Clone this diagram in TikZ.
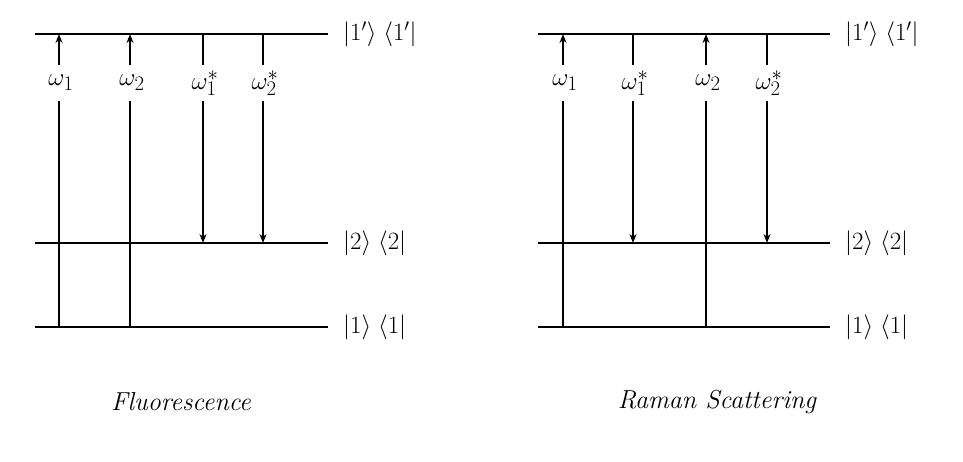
\documentclass[tikz,border=0pt]{standalone}
\usetikzlibrary{arrows.meta}
\begin{document}
\begin{tikzpicture}[x=1pt,y=-1pt,
  lvl/.style={line width=1.4},
  trans/.style={line width=1.4},
  tiparrow/.style={-{Stealth[length=9,width=7]}},
  wlab/.style={inner sep=0,minimum height=35,minimum width=10,font=\fontsize{28}{32}\selectfont},
  klab/.style={anchor=west,inner sep=0,font=\fontsize{25}{30}\selectfont},
  captext/.style={font=\fontsize{26}{30}\selectfont\itshape}]
\useasboundingbox (0,0) rectangle (963,461);
% ---------- Fluorescence ----------
\coordinate (La1) at (35,34);  \coordinate (Lb1) at (328,34);
\coordinate (La2) at (35,243); \coordinate (Lb2) at (328,243);
\coordinate (La3) at (35,327); \coordinate (Lb3) at (328,327);
\draw[lvl] (La1) -- (Lb1);
\draw[lvl] (La2) -- (Lb2);
\draw[lvl] (La3) -- (Lb3);
\node[klab] (Lk1) at (343,34) {$|1'\rangle\;\langle 1'|$};
\node[klab] (Lk2) at (343,243) {$|2\rangle\;\langle 2|$};
\node[klab] (Lk3) at (343,327) {$|1\rangle\;\langle 1|$};
% verticals
\coordinate (Lt1) at (59,34);  \coordinate (Ls1) at (59,327);
\coordinate (Lt2) at (130,34); \coordinate (Ls2) at (130,327);
\coordinate (Lt3) at (203,34); \coordinate (Ls3) at (203,243);
\coordinate (Lt4) at (263,34); \coordinate (Ls4) at (263,243);
\node[wlab] (Lw1) at (61,83) {$\omega_1$};
\node[wlab] (Lw2) at (132,83) {$\omega_2$};
\node[wlab] (Lw3) at (205,83) {$\omega_1^*$};
\node[wlab] (Lw4) at (265,83) {$\omega_2^*$};
\draw[trans] (Ls1) -- (Ls1 |- Lw1.south);  \draw[trans,tiparrow] (Lt1 |- Lw1.north) -- (Lt1);
\draw[trans] (Ls2) -- (Ls2 |- Lw2.south);  \draw[trans,tiparrow] (Lt2 |- Lw2.north) -- (Lt2);
\draw[trans] (Lt3) -- (Lt3 |- Lw3.north);  \draw[trans,tiparrow] (Ls3 |- Lw3.south) -- (Ls3);
\draw[trans] (Lt4) -- (Lt4 |- Lw4.north);  \draw[trans,tiparrow] (Ls4 |- Lw4.south) -- (Ls4);
\node[captext] (Lcap) at (181,402) {Fluorescence};
% ---------- Raman ----------
\coordinate (Ra1) at (538,34);  \coordinate (Rb1) at (830,34);
\coordinate (Ra2) at (538,243); \coordinate (Rb2) at (830,243);
\coordinate (Ra3) at (538,327); \coordinate (Rb3) at (830,327);
\draw[lvl] (Ra1) -- (Rb1);
\draw[lvl] (Ra2) -- (Rb2);
\draw[lvl] (Ra3) -- (Rb3);
\node[klab] (Rk1) at (845,34) {$|1'\rangle\;\langle 1'|$};
\node[klab] (Rk2) at (845,243) {$|2\rangle\;\langle 2|$};
\node[klab] (Rk3) at (845,327) {$|1\rangle\;\langle 1|$};
\coordinate (Rt1) at (563,34);  \coordinate (Rs1) at (563,327);
\coordinate (Rt2) at (633,34);  \coordinate (Rs2) at (633,243);
\coordinate (Rt3) at (706,34);  \coordinate (Rs3) at (706,327);
\coordinate (Rt4) at (767,34);  \coordinate (Rs4) at (767,243);
\node[wlab] (Rw1) at (565,83) {$\omega_1$};
\node[wlab] (Rw2) at (635,83) {$\omega_1^*$};
\node[wlab] (Rw3) at (708,83) {$\omega_2$};
\node[wlab] (Rw4) at (769,83) {$\omega_2^*$};
\draw[trans] (Rs1) -- (Rs1 |- Rw1.south);  \draw[trans,tiparrow] (Rt1 |- Rw1.north) -- (Rt1);
\draw[trans] (Rt2) -- (Rt2 |- Rw2.north);  \draw[trans,tiparrow] (Rs2 |- Rw2.south) -- (Rs2);
\draw[trans] (Rs3) -- (Rs3 |- Rw3.south);  \draw[trans,tiparrow] (Rt3 |- Rw3.north) -- (Rt3);
\draw[trans] (Rt4) -- (Rt4 |- Rw4.north);  \draw[trans,tiparrow] (Rs4 |- Rw4.south) -- (Rs4);
\node[captext] (Rcap) at (717,402) {Raman Scattering};
\end{tikzpicture}
\end{document}
